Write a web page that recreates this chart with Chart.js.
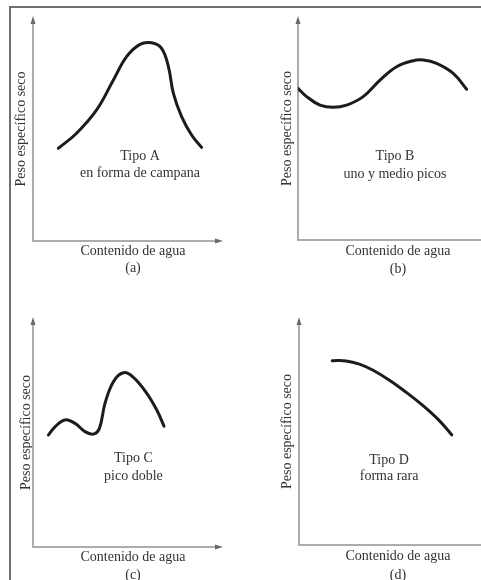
<!DOCTYPE html>
<html>
<head>
<meta charset="utf-8">
<script src="https://cdn.jsdelivr.net/npm/chart.js@4.4.1/dist/chart.umd.min.js"></script>
<style>
  html, body { margin: 0; padding: 0; background: #fff; width: 481px; height: 580px; overflow: hidden; position: relative; }
  .frame { position: absolute; left: 9px; top: 6px; width: 480px; height: 590px; border-left: 2px solid #707070; border-top: 2px solid #707070; }
  .panel { position: absolute; }
</style>
</head>
<body>
<div class="frame"></div>
<div class="panel" id="box-a"><canvas id="chart-a"></canvas></div>
<div class="panel" id="box-b"><canvas id="chart-b"></canvas></div>
<div class="panel" id="box-c"><canvas id="chart-c"></canvas></div>
<div class="panel" id="box-d"><canvas id="chart-d"></canvas></div>
<script>
// Curve shapes (0..100 on both axes)
const typeAX = [12.7, 21.8, 31.8, 40.2, 46.8, 53.5, 59.3, 64.3, 67.7, 70.2, 74.3, 79.3, 84.3];
const typeAY = [41.4, 48.1, 58.5, 71.9, 82.3, 87.8, 88.5, 86.0, 77.8, 65.9, 55.5, 47.3, 41.8];

const typeBX = [0, 4.3, 11, 17.6, 24.3, 32.6, 41, 49.3, 57.6, 62.6, 69.3, 77.6, 84.3];
const typeBY = [68.0, 64.3, 60.5, 59.5, 60.5, 64.3, 71.7, 77.7, 80.4, 80.7, 79.2, 74.7, 67.6];

const typeCX = [7.7, 11, 16, 21, 26, 30.2, 33.2, 36, 40.2, 45.2, 50.2, 56.9, 61.9, 65.5];
const typeCY = [48.9, 52.5, 55.5, 54.0, 50.4, 49.3, 51.8, 62.7, 72.2, 76.1, 74.1, 67.1, 59.8, 52.8];

const typeDX = [16.8, 23.8, 30.5, 37.2, 45.5, 53.8, 62.2, 70.5, 77.2];
const typeDY = [81.2, 81.1, 79.7, 77.1, 72.7, 67.5, 61.7, 55.1, 48.5];

const xAxisTitle = 'Contenido de agua';
const yAxisTitle = 'Peso específico seco';
const panelTags = ['(a)', '(b)', '(c)', '(d)'];
const typeNames = ['Tipo A', 'Tipo B', 'Tipo C', 'Tipo D'];
const typeShapes = ['en forma de campana', 'uno y medio picos', 'pico doble', 'forma rara'];

const serif = '"Liberation Serif", "DejaVu Serif", serif';
const textColor = '#333';

// layout per panel: box = [left, top, width, height] of the canvas
const panels = [
  { key: 'a', xs: typeAX, ys: typeAY, box: [0, 0, 240, 290], pad: { left: 9, top: 17, right: 7 }, yw: 24, xh: 49, lh: 17, tp: 13.5, axisEnd: 222, lbl: [53.5, 37.6, 30.2] },
  { key: 'b', xs: typeBX, ys: typeBY, box: [240, 0, 280, 290], pad: { left: 35, top: 17, right: 22 }, yw: 23, xh: 50, lh: 18.5, tp: 11.25, axisEnd: 250, lbl: [48.5, 37.4, 29.5] },
  { key: 'c', xs: typeCX, ys: typeCY, box: [0, 290, 240, 300], pad: { left: 14, top: 28, right: 7 }, yw: 19, xh: 43, lh: 18, tp: 6, axisEnd: 222, lbl: [50.2, 38.7, 31.0] },
  { key: 'd', xs: typeDX, ys: typeDY, box: [240, 290, 280, 300], pad: { left: 35, top: 28, right: 23 }, yw: 24, xh: 45, lh: 19, tp: 5.5, axisEnd: 250, lbl: [45.5, 37.4, 30.4] },
];

const axesPlugin = {
  id: 'arrowAxes',
  beforeDatasetsDraw(chart, args, opts) {
    const { ctx, chartArea: a } = chart;
    const xEnd = opts.axisEnd;
    ctx.save();
    ctx.strokeStyle = '#acacac';
    ctx.lineWidth = 2;
    ctx.beginPath();
    ctx.moveTo(a.left, a.top + 4);
    ctx.lineTo(a.left, a.bottom);
    ctx.lineTo(xEnd - 4, a.bottom);
    ctx.stroke();
    ctx.fillStyle = '#6a6a6a';
    ctx.beginPath();
    ctx.moveTo(a.left, a.top - 1);
    ctx.lineTo(a.left - 2.5, a.top + 7);
    ctx.lineTo(a.left + 2.5, a.top + 7);
    ctx.closePath();
    ctx.fill();
    ctx.beginPath();
    ctx.moveTo(xEnd + 1, a.bottom);
    ctx.lineTo(xEnd - 7, a.bottom - 2.5);
    ctx.lineTo(xEnd - 7, a.bottom + 2.5);
    ctx.closePath();
    ctx.fill();
    ctx.restore();
  },
  afterDatasetsDraw(chart, args, opts) {
    const { ctx, scales: { x, y } } = chart;
    const [lx, ly1, ly2] = opts.lbl;
    ctx.save();
    ctx.fillStyle = textColor;
    ctx.font = `14px ${serif}`;
    ctx.textAlign = 'center';
    ctx.textBaseline = 'middle';
    ctx.fillText(opts.lines[0], x.getPixelForValue(lx), y.getPixelForValue(ly1));
    ctx.fillText(opts.lines[1], x.getPixelForValue(lx), y.getPixelForValue(ly2));
    ctx.restore();
  }
};

panels.forEach((p, i) => {
  const box = document.getElementById(`box-${p.key}`);
  const [l, t, w, h] = p.box;
  Object.assign(box.style, { left: `${l}px`, top: `${t}px`, width: `${w}px`, height: `${h}px` });

  new Chart(document.getElementById(`chart-${p.key}`), {
    type: 'line',
    data: {
      datasets: [{
        data: p.xs.map((xv, j) => ({ x: xv, y: p.ys[j] })),
        borderColor: '#1c1c1c',
        borderWidth: 3,
        borderCapStyle: 'round',
        tension: 0.4,
        pointRadius: 0,
        fill: false,
      }],
    },
    options: {
      responsive: true,
      maintainAspectRatio: false,
      animation: false,
      events: [],
      layout: { padding: { left: p.pad.left, top: p.pad.top, right: p.pad.right, bottom: 0 } },
      plugins: {
        legend: { display: false },
        tooltip: { enabled: false },
        arrowAxes: { axisEnd: p.axisEnd, lbl: p.lbl, lines: [typeNames[i], typeShapes[i]] },
      },
      scales: {
        x: {
          type: 'linear', min: 0, max: 100,
          grid: { display: false }, border: { display: false }, ticks: { display: false },
          title: {
            display: true, text: [xAxisTitle, panelTags[i]], color: textColor,
            font: { family: serif, size: 14, lineHeight: `${p.lh}px` },
            padding: { top: 0, bottom: p.tp },
          },
          afterFit: (s) => { s.height = p.xh; },
        },
        y: {
          type: 'linear', min: 0, max: 100,
          grid: { display: false }, border: { display: false }, ticks: { display: false },
          title: {
            display: true, text: yAxisTitle, color: textColor,
            font: { family: serif, size: 14, lineHeight: '16px' },
            padding: { top: 4, bottom: 4 },
          },
          afterFit: (s) => { s.width = p.yw; },
        },
      },
    },
    plugins: [axesPlugin],
  });
});
</script>
</body>
</html>
